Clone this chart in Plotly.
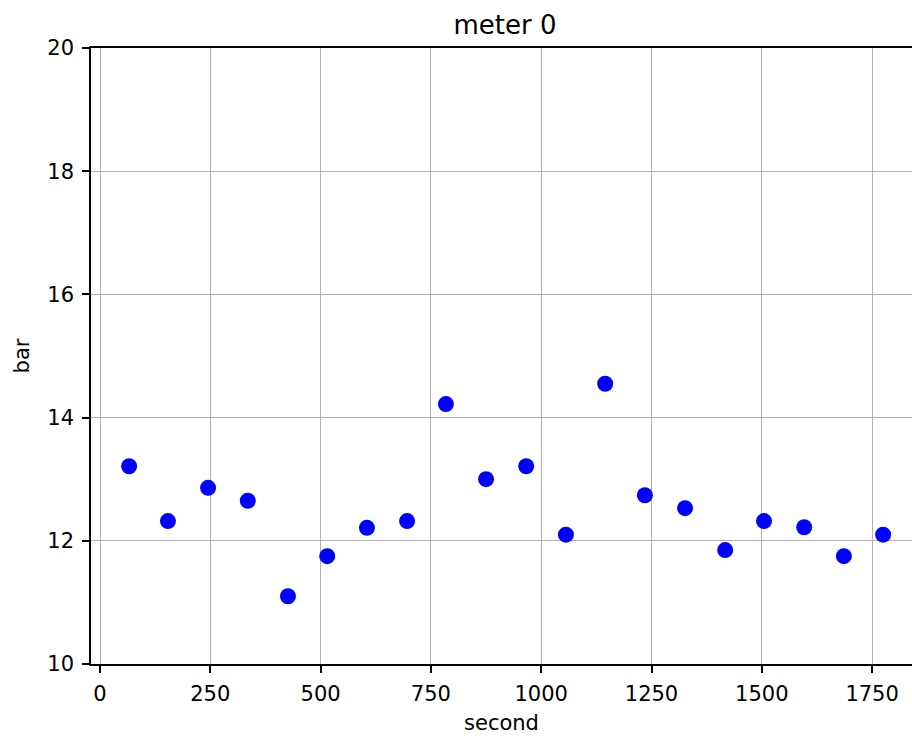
import plotly.graph_objects as go

seconds = [66, 154, 245, 335, 426, 515, 605, 696, 784, 875,
           966, 1056, 1145, 1235, 1326, 1417, 1505, 1596, 1686, 1775]
bar_values = [13.21, 12.32, 12.86, 12.65, 11.10, 11.75, 12.21, 12.32, 14.22, 13.00,
              13.21, 12.10, 14.55, 12.74, 12.53, 11.85, 12.32, 12.22, 11.75, 12.10]
x_ticks = [0, 250, 500, 750, 1000, 1250, 1500, 1750]
y_ticks = [10, 12, 14, 16, 18, 20]

font = "DejaVu Sans"

fig = go.Figure()
fig.add_trace(go.Scatter(
    x=seconds, y=bar_values, mode="markers",
    marker=dict(color="#0000ff", size=16, line=dict(width=0)),
    showlegend=False,
))

fig.update_layout(
    width=912, height=738,
    margin=dict(l=91, r=0, t=48, b=74),
    paper_bgcolor="white", plot_bgcolor="white",
    font=dict(family=font, size=21, color="black"),
    title=dict(text="meter 0", x=505/912, xref="container", xanchor="center",
               y=1-25/738, yref="container", yanchor="middle",
               font=dict(family=font, size=26, color="black")),
)

fig.update_xaxes(
    range=[-20.4, 1840.4], tickvals=x_ticks, ticktext=[str(v) for v in x_ticks],
    showline=True, linecolor="black", linewidth=1.6, mirror=True,
    ticks="outside", ticklen=7, tickwidth=1.6, tickcolor="black",
    showgrid=True, gridcolor="#b0b0b0", gridwidth=1.4, zeroline=False,
    ticklabelstandoff=3,
    title=dict(text="second", standoff=10, font=dict(size=21)),
    tickfont=dict(size=21),
)
fig.update_yaxes(
    range=[10, 20], tickvals=y_ticks, ticktext=[str(v) for v in y_ticks],
    showline=True, linecolor="black", linewidth=1.6, mirror=False,
    ticks="outside", ticklen=7, tickwidth=1.6, tickcolor="black",
    showgrid=True, gridcolor="#b0b0b0", gridwidth=1.4, zeroline=False,
    ticklabelstandoff=4,
    title=dict(text="bar", standoff=12, font=dict(size=21)),
    tickfont=dict(size=21),
)

fig.write_html(
    "out.html",
    config={"displayModeBar": False},
    post_script="document.body.style.margin='0';document.body.style.overflow='hidden';",
)
